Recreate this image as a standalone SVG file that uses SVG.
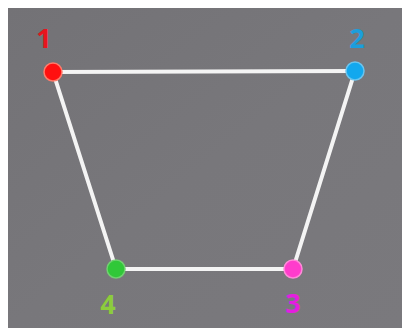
<svg xmlns="http://www.w3.org/2000/svg" width="402" height="330" viewBox="0 0 402 330">
<style>
.edge{stroke:#f4f4f4;stroke-width:4;fill:none;stroke-linecap:round}
.node{stroke-width:1.5}
.lbl{font-family:"Open Sans","DejaVu Sans",sans-serif;font-size:27px;font-weight:bold;text-anchor:middle}
</style>
<defs>
<linearGradient id="bg" x1="0" y1="0" x2="1" y2="1">
<stop offset="0" stop-color="#737276"/>
<stop offset="0.5" stop-color="#78777b"/>
<stop offset="1" stop-color="#7a797d"/>
</linearGradient>
</defs>
<rect width="402" height="330" fill="#ffffff"/>
<rect x="8" y="8" width="394" height="320" fill="url(#bg)"/>
<g id="connectors">
<line class="edge" x1="53" y1="72" x2="355" y2="71"/>
<line class="edge" x1="355" y1="71" x2="293" y2="269"/>
<line class="edge" x1="293" y1="269" x2="116" y2="269"/>
<line class="edge" x1="116" y1="269" x2="53" y2="72"/>
</g>
<g id="node1">
<circle class="node" cx="53" cy="72" r="9" fill="#ff1010" stroke="#ff7a6a"/>
<text class="lbl" x="44" y="48" fill="#e8141e">1</text>
</g>
<g id="node2">
<circle class="node" cx="355" cy="71" r="9" fill="#12a8ee" stroke="#6ac4ee"/>
<text class="lbl" x="357" y="48" fill="#1c9edc">2</text>
</g>
<g id="node3">
<circle class="node" cx="293" cy="269" r="9" fill="#ff3ccc" stroke="#ff8ad8"/>
<text class="lbl" x="293" y="313" fill="#e41ee0">3</text>
</g>
<g id="node4">
<circle class="node" cx="116" cy="269" r="9" fill="#30c838" stroke="#70d070"/>
<text class="lbl" x="108" y="314" fill="#8ccc3c">4</text>
</g>
</svg>
